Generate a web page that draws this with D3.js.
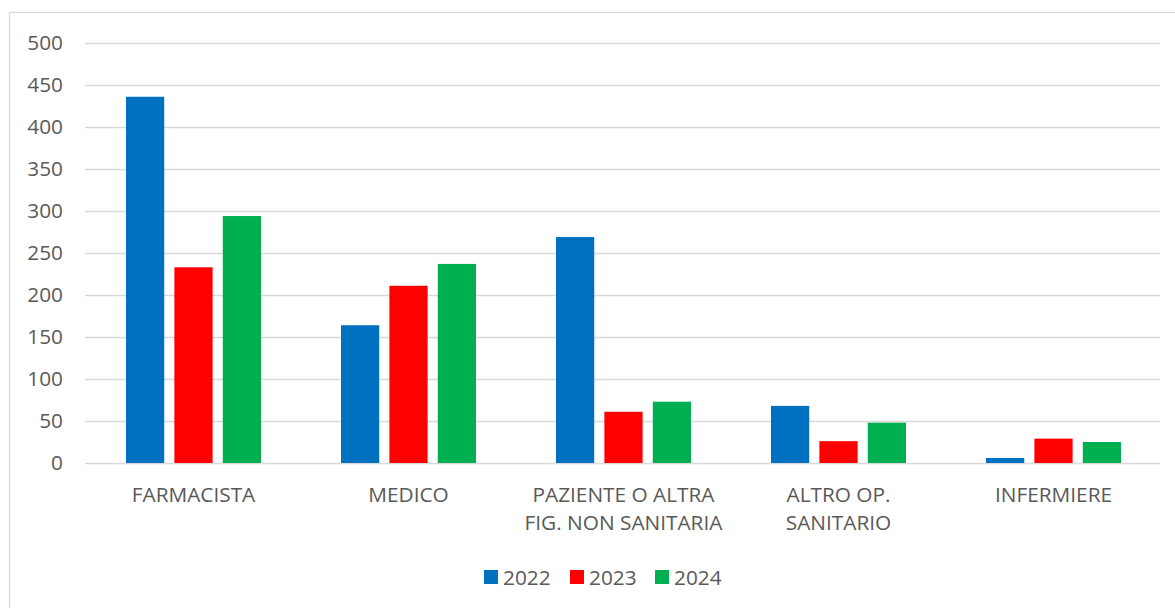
<!DOCTYPE html>
<html>
<head>
<meta charset="utf-8">
<script src="https://cdn.jsdelivr.net/npm/d3@7"></script>
<style>
  html, body { margin: 0; padding: 0; background: #fff; }
  svg { display: block; }
  text { font-family: "Open Sans", "Liberation Sans", sans-serif; fill: #595959; }
</style>
</head>
<body>
<svg id="chart" width="1175" height="608"></svg>
<script>
// Segnalazioni per tipologia di segnalatore, per anno
const categories = [
  ["FARMACISTA"],
  ["MEDICO"],
  ["PAZIENTE O ALTRA", "FIG. NON SANITARIA"],
  ["ALTRO OP.", "SANITARIO"],
  ["INFERMIERE"]
];
const years = ["2022", "2023", "2024"];
const values2022 = [436, 164, 269, 68, 6];
const values2023 = [233, 211, 61, 26, 29];
const values2024 = [294, 237, 73, 48, 25];
const yTicks = [0, 50, 100, 150, 200, 250, 300, 350, 400, 450, 500];
const colors = ["#0070C0", "#FF0000", "#00B050"];

const series = [values2022, values2023, values2024];
const catKeys = categories.map(c => c.join(" "));

const svg = d3.select("#chart");
const W = 1175, H = 608;
const plot = { left: 86, right: 1161, top: 43, bottom: 463 };
const fontSize = 20.8;

// chart frame
svg.append("rect")
  .attr("x", 9.5).attr("y", 12.5)
  .attr("width", W + 10).attr("height", H + 10)
  .attr("fill", "#fff").attr("stroke", "#d9d9d9").attr("stroke-width", 1.3);

const x0 = d3.scaleBand().domain(catKeys).range([plot.left, plot.right]).padding(0);
const groupW = 135;
const x1 = d3.scaleBand().domain(years).range([-groupW / 2, groupW / 2]).paddingInner(0.21).paddingOuter(0);
const y = d3.scaleLinear().domain([0, 500]).range([plot.bottom, plot.top]);

// horizontal gridlines
const grid = svg.append("g")
  .attr("transform", `translate(${plot.left - 1},0)`)
  .call(d3.axisLeft(y).tickValues(yTicks).tickSize(-(plot.right - plot.left)).tickFormat(""));
grid.select(".domain").remove();
grid.selectAll(".tick line").attr("stroke", "#d9d9d9").attr("stroke-width", 1.5);

// y-axis labels
const yAxis = svg.append("g")
  .attr("transform", `translate(63,0)`)
  .call(d3.axisLeft(y).tickValues(yTicks).tickSize(0).tickPadding(0));
yAxis.select(".domain").remove();
yAxis.selectAll("text").attr("font-size", fontSize).attr("fill", "#595959")
  .style("font-family", '"Open Sans", "Liberation Sans", sans-serif');

// bars
const groups = svg.append("g").selectAll("g")
  .data(catKeys)
  .join("g")
  .attr("transform", d => `translate(${x0(d) + x0.bandwidth() / 2},0)`);

groups.selectAll("rect")
  .data((d, i) => years.map((yr, j) => ({ yr, v: series[j][i], c: colors[j] })))
  .join("rect")
  .attr("x", d => x1(d.yr))
  .attr("width", x1.bandwidth())
  .attr("y", d => y(d.v))
  .attr("height", d => y(0) - y(d.v))
  .attr("fill", d => d.c);

// category labels
const xAxis = svg.append("g");
categories.forEach((lines, i) => {
  const cx = x0(catKeys[i]) + x0.bandwidth() / 2;
  const t = xAxis.append("text")
    .attr("x", cx).attr("y", 502)
    .attr("text-anchor", "middle")
    .attr("font-size", fontSize);
  lines.forEach((ln, k) => {
    t.append("tspan").attr("x", cx).attr("dy", k === 0 ? 0 : 28).text(ln);
  });
});

// legend
const legendItems = [
  { label: years[0], c: colors[0], x: 484 },
  { label: years[1], c: colors[1], x: 570 },
  { label: years[2], c: colors[2], x: 655 }
];
const legend = svg.append("g");
legendItems.forEach(it => {
  legend.append("rect").attr("x", it.x).attr("y", 570).attr("width", 14).attr("height", 14).attr("fill", it.c);
  legend.append("text").attr("x", it.x + 19).attr("y", 584.5).attr("font-size", fontSize).text(it.label);
});
</script>
</body>
</html>
